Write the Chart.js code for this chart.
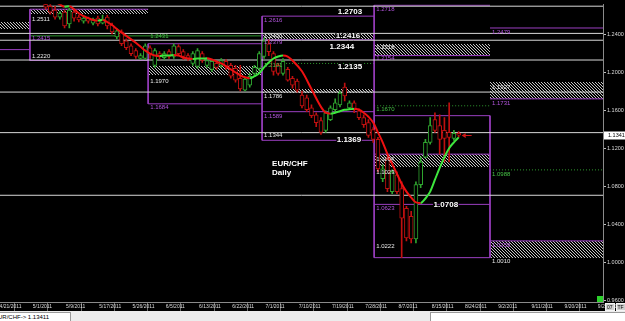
<!DOCTYPE html>
<html>
<head>
<meta charset="utf-8">
<title>EUR/CHF Daily</title>
<script src="https://cdn.jsdelivr.net/npm/chart.js@4.4.1/dist/chart.umd.min.js"></script>
<style>
 html,body{margin:0;padding:0;width:625px;height:321px;overflow:hidden;background:#ececec;font-family:"Liberation Sans",Arial,sans-serif;}
 #wrap{position:absolute;left:0;top:0;width:625px;height:311px;background:#000;}
 #c{display:block;}
 #status{position:absolute;left:0;top:311px;width:625px;height:10px;background:#ececec;}
 #sym{position:absolute;left:-8px;top:1px;width:79px;height:10px;background:#fff;border:1px solid #9a9a9a;box-sizing:border-box;font-size:6px;line-height:8px;color:#000;padding-left:1px;white-space:nowrap;}
 #info{position:absolute;left:430px;top:1px;width:200px;height:10px;background:#fff;border:1px solid #9a9a9a;box-sizing:border-box;}
 #tf{position:absolute;left:605px;top:303px;height:8px;font-size:5px;line-height:6px;color:#000;white-space:nowrap;}
 #tf span{display:inline-block;background:#cfcfcf;border:1px solid #f4f4f4;padding:0 1px;margin-right:1px;}
 #sq{position:absolute;left:597px;top:296px;width:6px;height:6px;background:#2bd12b;}
</style>
</head>
<body>
<div id="wrap"><canvas id="c" width="625" height="311"></canvas>
<div id="sq"></div>
<div id="tf"><span>07</span><span>TF</span></div>
</div>
<div id="status"><div id="sym">EUR/CHF-&gt; 1.13411</div><div id="info"></div></div>
<script>
// ---------------- DATA ----------------
const dateLabels = ["4/21/2011","5/1/2011","5/9/2011","5/17/2011","5/26/2011","6/5/2011","6/13/2011","6/22/2011","7/1/2011","7/10/2011","7/19/2011","7/28/2011","8/7/2011","8/15/2011","8/24/2011","9/2/2011","9/11/2011","9/20/2011","9/29/2011"];
const barsPerLabel = 7;
const yTicks = [0.96,1.00,1.04,1.08,1.12,1.16,1.20,1.24];

const firstBar = 10; // bar index of first visible candle
const openP  = [1.2723,1.2702,1.2661,1.2588,1.2640,1.2515,1.2640,1.2588,1.2546,1.2577,1.2525,1.2577,1.2525,1.2588,1.2505,1.2380,1.2432,1.2338,1.2286,1.2234,1.2151,1.2151,1.2265,1.2078,1.2203,1.2161,1.2224,1.2172,1.2276,1.2224,1.2182,1.2099,1.2068,1.2203,1.2078,1.2037,1.2099,1.2078,1.2120,1.2078,1.2047,1.1943,1.1818,1.1870,1.1995,1.2047,1.2172,1.2307,1.2203,1.2078,1.1995,1.2037,1.1943,1.1912,1.1766,1.1735,1.1631,1.1558,1.1496,1.1392,1.1506,1.1610,1.1662,1.1849,1.1631,1.1683,1.1600,1.1527,1.1475,1.1402,1.1298,1.0882,1.1090,1.0747,1.0924,1.0778,1.0570,1.0487,1.0248,1.0820,1.1111,1.1267,1.1506,1.1444,1.1392,1.1371,1.1309,1.1361];
const highP  = [1.2775,1.2754,1.2702,1.2650,1.2661,1.2681,1.2661,1.2609,1.2598,1.2588,1.2577,1.2598,1.2609,1.2609,1.2525,1.2463,1.2453,1.2359,1.2307,1.2255,1.2203,1.2307,1.2286,1.2255,1.2224,1.2224,1.2245,1.2307,1.2297,1.2245,1.2203,1.2224,1.2255,1.2224,1.2151,1.2141,1.2120,1.2151,1.2141,1.2099,1.2078,1.2078,1.1953,1.1995,1.2078,1.2224,1.2369,1.2349,1.2224,1.2099,1.2151,1.2057,1.1964,1.1933,1.1808,1.1766,1.1662,1.1579,1.1527,1.1600,1.1652,1.1725,1.1808,1.1891,1.1704,1.1704,1.1620,1.1558,1.1506,1.1423,1.1319,1.1028,1.1111,1.0976,1.0955,1.0851,1.0591,1.0539,1.0851,1.1111,1.1298,1.1527,1.1579,1.1558,1.1527,1.1683,1.1392,1.1381];
const lowP   = [1.2671,1.2619,1.2567,1.2567,1.2473,1.2473,1.2546,1.2536,1.2525,1.2525,1.2505,1.2494,1.2515,1.2463,1.2411,1.2359,1.2286,1.2245,1.2182,1.2151,1.2141,1.2141,1.2151,1.2057,1.2141,1.2141,1.2151,1.2151,1.2182,1.2141,1.2130,1.2078,1.2047,1.2109,1.2057,1.2016,1.2037,1.2057,1.2037,1.1943,1.1901,1.1808,1.1808,1.1849,1.1974,1.2026,1.2151,1.2182,1.1974,1.1974,1.1974,1.1912,1.1839,1.1797,1.1631,1.1589,1.1527,1.1433,1.1350,1.1371,1.1496,1.1579,1.1641,1.1704,1.1610,1.1579,1.1506,1.1423,1.1319,1.1267,1.0955,1.0851,1.0747,1.0726,1.0726,1.0050,1.0227,1.0206,1.0206,1.0789,1.1101,1.1246,1.1371,1.1142,1.1059,1.1059,1.1288,1.1319];
const closeP = [1.2692,1.2640,1.2588,1.2629,1.2494,1.2661,1.2577,1.2557,1.2577,1.2546,1.2567,1.2515,1.2567,1.2494,1.2432,1.2442,1.2307,1.2265,1.2203,1.2172,1.2182,1.2286,1.2203,1.2234,1.2172,1.2203,1.2172,1.2286,1.2203,1.2172,1.2151,1.2203,1.2234,1.2130,1.2130,1.2120,1.2057,1.2130,1.2068,1.1964,1.1922,1.1829,1.1933,1.1964,1.2057,1.2203,1.2338,1.2224,1.2016,1.1995,1.2120,1.1922,1.1870,1.1818,1.1652,1.1610,1.1548,1.1475,1.1371,1.1579,1.1631,1.1683,1.1787,1.1756,1.1683,1.1610,1.1527,1.1454,1.1340,1.1298,1.0986,1.0986,1.0778,1.0955,1.0747,1.0466,1.0258,1.0248,1.0820,1.1059,1.1267,1.1444,1.1392,1.1298,1.1309,1.1319,1.1361,1.1341];

const maBars = [9,11,13,14,15,16,17,18,19,20,21,22,23,24,25,27,29,30,31,32,33,34,35,36,37,38,39,40,41,42,43,44,45,46,47,49,51,52,53,54,55,56,57,58,59,60,61,62,64,66,68,69,70,71,72,73,74,75,76,77,78,79,80,81,82,83,84,85,86,87,88,89,90,91,92,93,94,95,96,97];
const maValues = [1.2827,1.2775,1.2723,1.2697,1.2702,1.2671,1.2629,1.2598,1.2577,1.2557,1.2551,1.2557,1.2536,1.2505,1.2463,1.2390,1.2317,1.2276,1.2234,1.2203,1.2182,1.2177,1.2182,1.2182,1.2187,1.2182,1.2161,1.2151,1.2146,1.2151,1.2151,1.2153,1.2141,1.2120,1.2099,1.2037,1.1974,1.1953,1.1943,1.1964,1.1995,1.2057,1.2109,1.2151,1.2172,1.2182,1.2172,1.2130,1.2016,1.1829,1.1641,1.1579,1.1569,1.1579,1.1595,1.1610,1.1615,1.1620,1.1610,1.1579,1.1537,1.1475,1.1371,1.1267,1.1142,1.1038,1.0934,1.0830,1.0747,1.0685,1.0633,1.0627,1.0674,1.0747,1.0872,1.0997,1.1111,1.1205,1.1267,1.1319];

// key levels (full width)
const keyLevels = [1.2703,1.2416,1.2344,1.2135,1.1797,1.1369,1.0708];
const keyLabels = ["1.2703","1.2416","1.2344","1.2135","1.1369","1.0708"];
const keyLabelPrice = [1.2640,1.2390,1.2276,1.2068,1.1298,1.0612];
const keyLabelBar = [74.1,73.7,72.4,74.1,73.9,94.3];

// monthly boxes: boundaries in bar units (Apr, May, Jun, Jul, Aug, Sep, end)
const monthEdges = [0.4,6.7,31.6,55.6,79.2,103.6,127.4];
const purpleLevels = [[1.2245],[1.2671,1.2130],[1.2307,1.1673],[1.2598,1.2349,1.1590,1.1288],[1.2713,1.2182,1.1548,1.1142,1.0612,1.0050],[1.2473,1.1725,1.0227]];
const purpleVerticals = [[6.7,1.2671,1.2130],[31.6,1.2307,1.1673],[55.6,1.2598,1.1288],[79.2,1.2713,1.0050],[103.6,1.1548,1.0050]];
const greenSolid = [[6.7,55.6,1.2390]];
const greenDotted = [[55.6,79.2,1.2099],[79.2,103.6,1.1652],[103.6,127.4,1.0976]];
const whiteDotted = [[103.6,127.4,1.0061]];
const hatchZones = [[0.4,6.7,1.2536,1.2463],[6.7,31.6,1.2671,1.2619],[31.6,55.6,1.2068,1.1974],[55.6,79.2,1.2411,1.2359],[55.6,79.2,1.1829,1.1787],[79.2,103.6,1.2307,1.2182],[79.2,103.6,1.1142,1.1007],[103.6,127.4,1.1901,1.1725],[103.6,127.4,1.0227,1.0050]];
const boxLabels = [
 [1,"1.2511",1.2567,"w"],[1,"1.2415",1.2369,"p"],[1,"1.2220",1.2172,"w"],
 [2,"1.2431",1.2380,"g"],[2,"1.1970",1.1912,"w"],[2,"1.1684",1.1631,"p"],
 [3,"1.2616",1.2557,"p"],[3,"1.2430",1.2380,"w"],[3,"1.2379",1.2317,"p"],[3,"1.2101",1.2078,"g"],[3,"1.1786",1.1756,"w"],[3,"1.1589",1.1537,"p"],[3,"1.1344",1.1340,"w"],
 [4,"1.2718",1.2671,"p"],[4,"1.2318",1.2265,"w"],[4,"1.2154",1.2151,"p"],[4,"1.1670",1.1610,"g"],[4,"1.1104",1.1090,"w"],[4,"1.1023",1.0955,"w"],[4,"1.0623",1.0570,"p"],[4,"1.0222",1.0165,"w"],
 [5,"1.2479",1.2432,"p"],[5,"1.1927",1.1849,"w"],[5,"1.1731",1.1683,"p"],[5,"1.0988",1.0934,"g"],[5,"1.0259",1.0185,"p"],[5,"1.0010",1.0009,"w"]
];
const titleLines = ["EUR/CHF","Daily"];
const titleBar = 57.7;
const titlePrice = [1.1038,1.0945];

// ---------------- STYLE ----------------
const C = {
  candleUp:'#2fa52f', candleDn:'#c01010', maUp:'#3ee63e', maDn:'#ee1111',
  white:'#d8d8d8', purple:'#9a3fc0', purpleText:'#b355dd', green:'#2f9a2f', greenText:'#45c045', label:'#e8e8e8'
};
const FONT = '"Liberation Sans", Arial, sans-serif';

function hSegs(list){ const out=[]; list.forEach(([a,b,v])=>{out.push({x:a,y:v},{x:b,y:v},{x:b,y:null});}); return out; }
function vSegs(list){ const out=[]; list.forEach(([a,t,b])=>{out.push({x:a,y:t},{x:a,y:b},{x:a,y:null});}); return out; }

const barIdx = openP.map((_,k)=>firstBar+k);
const candleCol = k => closeP[k] >= openP[k] ? C.candleUp : C.candleDn;

const purpleH = [];
purpleLevels.forEach((lv,m)=>lv.forEach(v=>purpleH.push([monthEdges[m],monthEdges[m+1],v])));
const xMin = monthEdges[0], xMax = monthEdges[monthEdges.length-1];

// hatch pattern
const pc = document.createElement('canvas'); pc.width=3; pc.height=3;
const pg = pc.getContext('2d'); pg.fillStyle='#c4c4c4';
for (let k=0;k<3;k++) pg.fillRect(k,k,1,1);
const hatch = pg.createPattern(pc,'repeat');

const overlay = {
  id:'overlay',
  beforeDraw(chart){ const c=chart.ctx; c.save(); c.fillStyle='#000'; c.fillRect(0,0,chart.width,chart.height); c.restore(); },
  beforeDatasetsDraw(chart){
    const {ctx, chartArea:a, scales:{x,y}} = chart;
    ctx.save(); ctx.beginPath(); ctx.rect(a.left,a.top,a.right-a.left,a.bottom-a.top); ctx.clip();
    ctx.fillStyle = hatch;
    hatchZones.forEach(([x1,x2,p1,p2])=>{
      const X1=Math.round(x.getPixelForValue(x1)), X2=Math.round(x.getPixelForValue(x2));
      const Y1=Math.round(y.getPixelForValue(p1)), Y2=Math.round(y.getPixelForValue(p2));
      ctx.fillRect(X1,Y1,X2-X1,Y2-Y1);
    });
    ctx.restore();
  },
  afterDatasetsDraw(chart){
    const {ctx, chartArea:a, scales:{x,y}} = chart;
    ctx.save();
    ctx.textBaseline='middle'; ctx.textAlign='left';
    ctx.font = '6px '+FONT;
    boxLabels.forEach(([m,t,p,c])=>{
      ctx.fillStyle = c==='p'?C.purpleText:(c==='g'?C.greenText:C.label);
      ctx.fillText(t, x.getPixelForValue(monthEdges[m])+2, y.getPixelForValue(p));
    });
    ctx.font = 'bold 8px '+FONT; ctx.textAlign='center';
    keyLabels.forEach((t,k)=>{
      const px=x.getPixelForValue(keyLabelBar[k]), py=y.getPixelForValue(keyLabelPrice[k]);
      ctx.strokeStyle='#000'; ctx.lineWidth=2; ctx.strokeText(t,px,py);
      ctx.fillStyle='#fff'; ctx.fillText(t,px,py);
    });
    ctx.textAlign='left'; ctx.fillStyle='#fff';
    titleLines.forEach((t,k)=>ctx.fillText(t, x.getPixelForValue(titleBar), y.getPixelForValue(titlePrice[k])));
    // last price arrow
    const last = closeP[closeP.length-1];
    const ly = Math.round(y.getPixelForValue(last))+0.5;
    const lx = x.getPixelForValue(barIdx[barIdx.length-1]);
    ctx.strokeStyle='#d01818'; ctx.fillStyle='#d01818'; ctx.lineWidth=1;
    ctx.beginPath(); ctx.moveTo(lx+6,ly); ctx.lineTo(lx+13,ly); ctx.stroke();
    ctx.beginPath(); ctx.moveTo(lx+3,ly); ctx.lineTo(lx+7,ly-2.5); ctx.lineTo(lx+7,ly+2.5); ctx.closePath(); ctx.fill();
    // price tag on axis
    ctx.fillStyle='#fff'; ctx.fillRect(a.right+1, ly-4, chart.width-a.right-1, 8);
    ctx.fillStyle='#000'; ctx.font='5.5px '+FONT; ctx.textBaseline='middle';
    ctx.fillText(last.toFixed(4), a.right+5, ly);
    ctx.restore();
  }
};

new Chart(document.getElementById('c'), {
  type:'bar',
  data:{ datasets:[
    { type:'line', label:'MA', data: maBars.map((b,k)=>({x:b,y:maValues[k]})), borderWidth:2, pointRadius:0,
      tension:0.4, cubicInterpolationMode:'monotone', borderColor:C.maDn,
      segment:{ borderColor: s => s.p1.parsed.y < s.p0.parsed.y ? C.maDn : C.maUp }, order:0 },
    { type:'bar', label:'body', data: barIdx.map((b,k)=>({x:b,y:[openP[k],closeP[k]]})), backgroundColor:'#000',
      borderColor: c=>candleCol(c.dataIndex), borderWidth:1, borderSkipped:false, barThickness:4, grouped:false, order:1 },
    { type:'bar', label:'wick', data: barIdx.map((b,k)=>({x:b,y:[lowP[k],highP[k]]})),
      backgroundColor: c=>candleCol(c.dataIndex), barThickness:1, grouped:false, order:2 },
    { type:'line', label:'key', data: hSegs(keyLevels.map(v=>[xMin,xMax,v])), borderColor:C.white, borderWidth:1, pointRadius:0, order:6 },
    { type:'line', label:'purpleH', data: hSegs(purpleH), borderColor:C.purple, borderWidth:1, pointRadius:0, order:7 },
    { type:'line', label:'purpleV', data: vSegs(purpleVerticals), borderColor:C.purple, borderWidth:1, pointRadius:0, order:7 },
    { type:'line', label:'greenS', data: hSegs(greenSolid), borderColor:C.green, borderWidth:1, pointRadius:0, order:8 },
    { type:'line', label:'greenD', data: hSegs(greenDotted), borderColor:C.green, borderWidth:1, borderDash:[1,2], pointRadius:0, order:8 },
    { type:'line', label:'whiteD', data: hSegs(whiteDotted), borderColor:'#cfcfcf', borderWidth:1, borderDash:[1,2], pointRadius:0, order:8 }
  ]},
  options:{
    responsive:false, animation:false, events:[], devicePixelRatio:1,
    layout:{padding:0},
    plugins:{legend:{display:false}, tooltip:{enabled:false}},
    scales:{
      x:{ type:'linear', min:xMin, max:xMax, offset:false,
        grid:{ drawOnChartArea:false, tickLength:9, color:'#6a6a6a' },
        border:{ color:'#8a8a8a' },
        ticks:{ align:'start', padding:-7, labelOffset:1.5, color:'#dcdcdc', font:{size:5, family:FONT}, maxRotation:0, autoSkip:false,
          callback:(v,i)=>dateLabels[i] },
        afterBuildTicks:s=>{ s.ticks = dateLabels.map((_,k)=>({value:k*barsPerLabel})); },
        afterFit:s=>{ s.height = 9; }
      },
      y:{ type:'linear', position:'right', min:0.9582, max:1.2723,
        grid:{ drawOnChartArea:false, tickLength:3, color:'#bdbdbd' },
        border:{ color:'#8a8a8a' },
        ticks:{ padding:1, color:'#dcdcdc', font:{size:5.5, family:FONT}, callback:v=>Number(v).toFixed(4) },
        afterBuildTicks:s=>{ s.ticks = yTicks.map(v=>({value:v})); },
        afterFit:s=>{ s.width = 22; }
      }
    }
  },
  plugins:[overlay]
});
</script>
</body>
</html>
